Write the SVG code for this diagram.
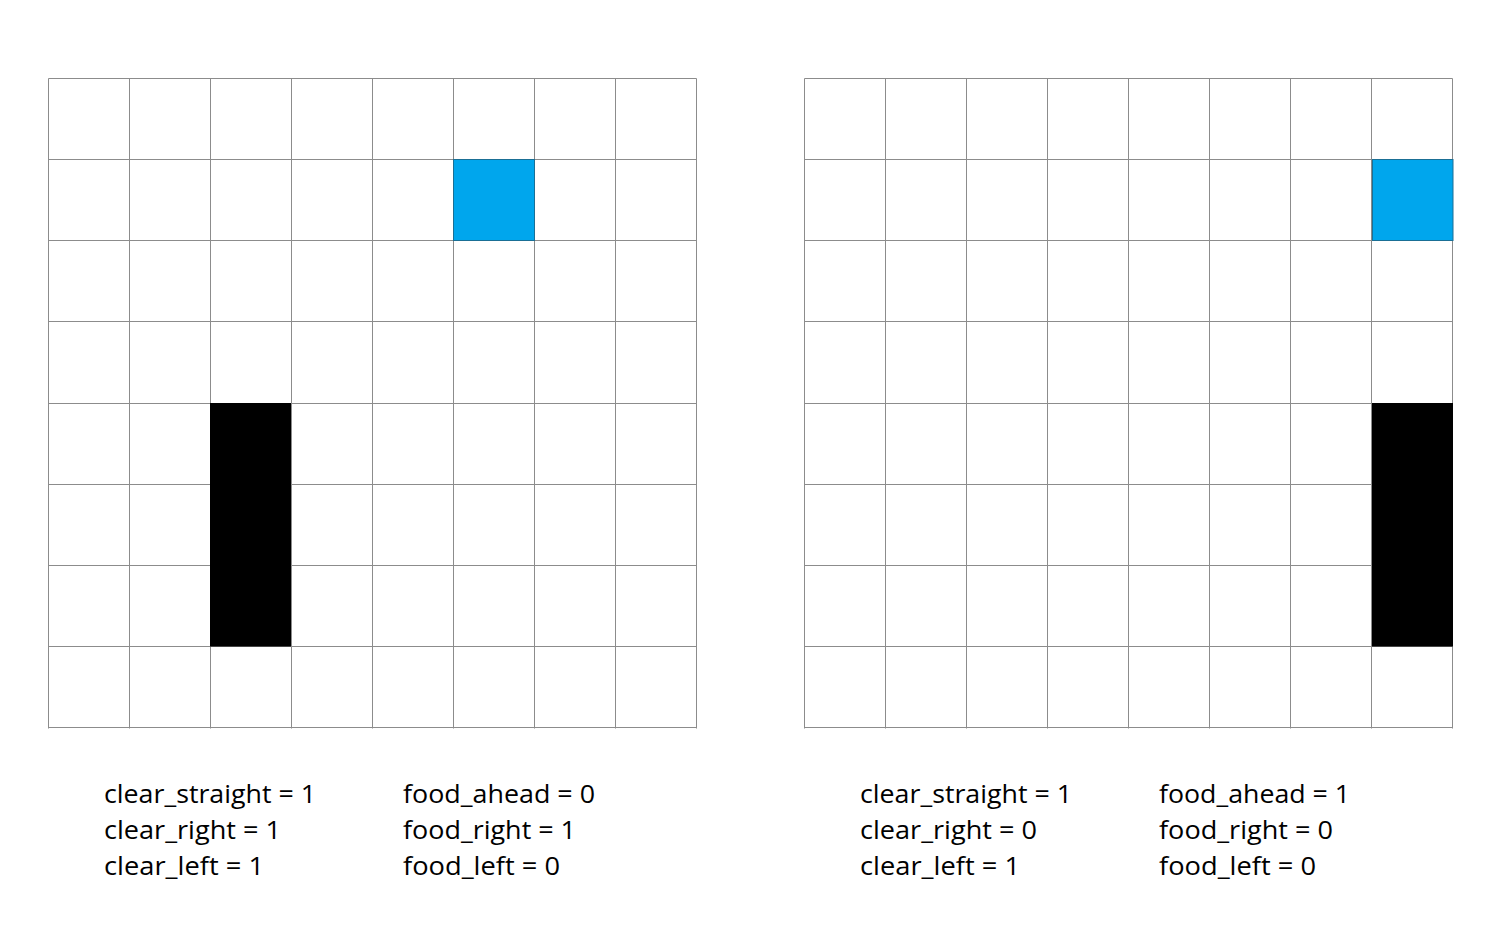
<svg xmlns="http://www.w3.org/2000/svg" width="1507" height="947" viewBox="0 0 1507 947">
<style>
.grid line{stroke:#8c8c8c;stroke-width:1}
.food{fill:#00A6ED;stroke:#1a6f95;stroke-width:1}
.snake{fill:#000}
.lbl{font-family:"Open Sans","Liberation Sans",Arial,sans-serif;font-size:26px;fill:#000}
</style>
<rect width="1507" height="947" fill="#fff"/>
<g id="left-board">
  <g class="grid">
    <line x1="48.5" y1="78.5" x2="48.5" y2="728.5"/>
    <line x1="129.5" y1="78.5" x2="129.5" y2="728.5"/>
    <line x1="210.5" y1="78.5" x2="210.5" y2="728.5"/>
    <line x1="291.5" y1="78.5" x2="291.5" y2="728.5"/>
    <line x1="372.5" y1="78.5" x2="372.5" y2="728.5"/>
    <line x1="453.5" y1="78.5" x2="453.5" y2="728.5"/>
    <line x1="534.5" y1="78.5" x2="534.5" y2="728.5"/>
    <line x1="615.5" y1="78.5" x2="615.5" y2="728.5"/>
    <line x1="696.5" y1="78.5" x2="696.5" y2="728.5"/>
    <line x1="48.5" y1="78.5" x2="696.5" y2="78.5"/>
    <line x1="48.5" y1="159.5" x2="696.5" y2="159.5"/>
    <line x1="48.5" y1="240.5" x2="696.5" y2="240.5"/>
    <line x1="48.5" y1="321.5" x2="696.5" y2="321.5"/>
    <line x1="48.5" y1="403.5" x2="696.5" y2="403.5"/>
    <line x1="48.5" y1="484.5" x2="696.5" y2="484.5"/>
    <line x1="48.5" y1="565.5" x2="696.5" y2="565.5"/>
    <line x1="48.5" y1="646.5" x2="696.5" y2="646.5"/>
    <line x1="48.5" y1="727.5" x2="696.5" y2="727.5"/>
  </g>
  <rect class="food" x="453.5" y="159.5" width="81" height="81"/>
  <rect class="snake" x="210" y="403" width="81" height="243.5"/>
</g>
<g id="right-board">
  <g class="grid">
    <line x1="804.5" y1="78.5" x2="804.5" y2="728.5"/>
    <line x1="885.5" y1="78.5" x2="885.5" y2="728.5"/>
    <line x1="966.5" y1="78.5" x2="966.5" y2="728.5"/>
    <line x1="1047.5" y1="78.5" x2="1047.5" y2="728.5"/>
    <line x1="1128.5" y1="78.5" x2="1128.5" y2="728.5"/>
    <line x1="1209.5" y1="78.5" x2="1209.5" y2="728.5"/>
    <line x1="1290.5" y1="78.5" x2="1290.5" y2="728.5"/>
    <line x1="1371.5" y1="78.5" x2="1371.5" y2="728.5"/>
    <line x1="1452.5" y1="78.5" x2="1452.5" y2="728.5"/>
    <line x1="804.5" y1="78.5" x2="1452.5" y2="78.5"/>
    <line x1="804.5" y1="159.5" x2="1452.5" y2="159.5"/>
    <line x1="804.5" y1="240.5" x2="1452.5" y2="240.5"/>
    <line x1="804.5" y1="321.5" x2="1452.5" y2="321.5"/>
    <line x1="804.5" y1="403.5" x2="1452.5" y2="403.5"/>
    <line x1="804.5" y1="484.5" x2="1452.5" y2="484.5"/>
    <line x1="804.5" y1="565.5" x2="1452.5" y2="565.5"/>
    <line x1="804.5" y1="646.5" x2="1452.5" y2="646.5"/>
    <line x1="804.5" y1="727.5" x2="1452.5" y2="727.5"/>
  </g>
  <rect class="food" x="1372.5" y="159.5" width="80.5" height="81"/>
  <rect class="snake" x="1372" y="403" width="81" height="243.5"/>
</g>
<g id="left-labels" class="lbl">
  <text x="104" y="803" textLength="212" lengthAdjust="spacingAndGlyphs">clear_straight = 1</text>
  <text x="104" y="839" textLength="177" lengthAdjust="spacingAndGlyphs">clear_right = 1</text>
  <text x="104" y="875" textLength="160" lengthAdjust="spacingAndGlyphs">clear_left = 1</text>
  <text x="403" y="803" textLength="192" lengthAdjust="spacingAndGlyphs">food_ahead = 0</text>
  <text x="403" y="839" textLength="173" lengthAdjust="spacingAndGlyphs">food_right = 1</text>
  <text x="403" y="875" textLength="157" lengthAdjust="spacingAndGlyphs">food_left = 0</text>
</g>
<g id="right-labels" class="lbl">
  <text x="860" y="803" textLength="212" lengthAdjust="spacingAndGlyphs">clear_straight = 1</text>
  <text x="860" y="839" textLength="177" lengthAdjust="spacingAndGlyphs">clear_right = 0</text>
  <text x="860" y="875" textLength="160" lengthAdjust="spacingAndGlyphs">clear_left = 1</text>
  <text x="1159" y="803" textLength="191" lengthAdjust="spacingAndGlyphs">food_ahead = 1</text>
  <text x="1159" y="839" textLength="174" lengthAdjust="spacingAndGlyphs">food_right = 0</text>
  <text x="1159" y="875" textLength="157" lengthAdjust="spacingAndGlyphs">food_left = 0</text>
</g>
</svg>
